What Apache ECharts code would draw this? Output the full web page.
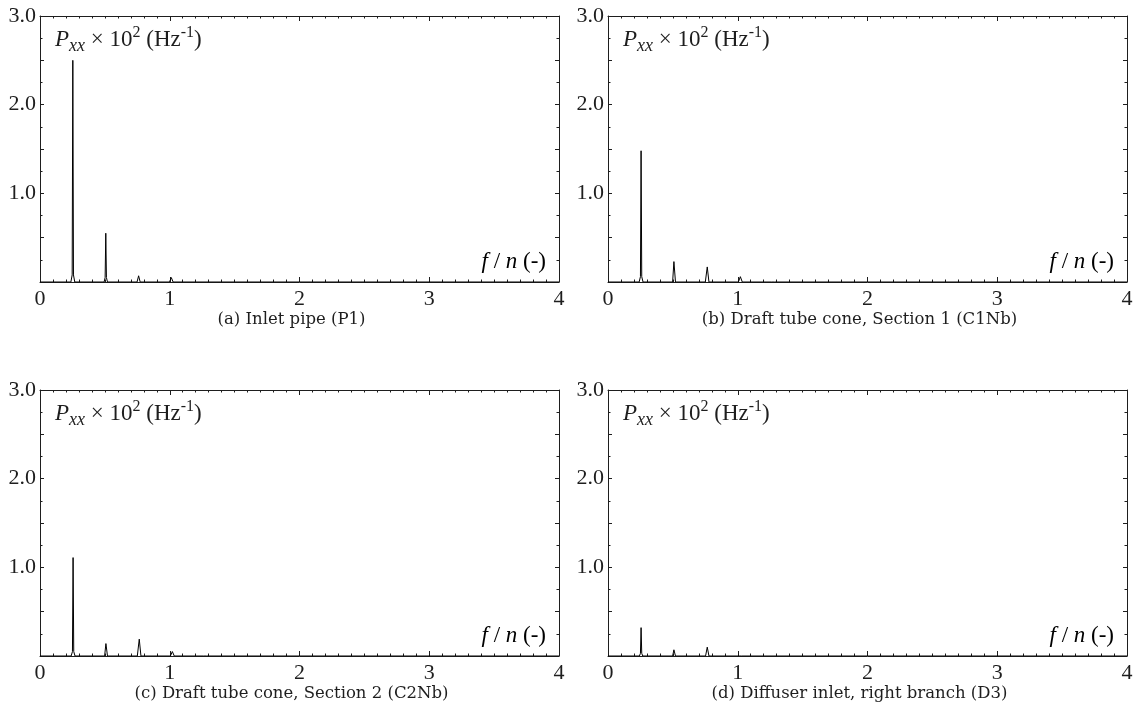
<!DOCTYPE html>
<html>
<head>
<meta charset="utf-8">
<script src="https://cdn.jsdelivr.net/npm/echarts@6/dist/echarts.min.js"></script>
<style>
  html, body { margin: 0; padding: 0; background: #fff; }
  #chart { width: 1138px; height: 722px; }
</style>
</head>
<body>
<div id="chart"></div>
<script>
// Normalised frequency f/n and power spectral density Pxx x 10^2 (Hz^-1) per probe
const freqP1   = [0, 0.238, 0.248, 0.253, 0.258, 0.268, 0.494, 0.502, 0.507, 0.512, 0.520, 0.748, 0.760, 0.772, 0.998, 1.012, 1.026, 4];
const psdP1    = [0, 0,     0.08,  2.50,  0.08,  0,     0,     0.05,  0.55,  0.05,  0,     0,     0.07,  0,     0,     0.05,  0,     0];

const freqC1Nb = [0, 0.240, 0.250, 0.255, 0.260, 0.270, 0.498, 0.508, 0.520, 0.750, 0.765, 0.778, 1.005, 1.020, 1.035, 1.262, 1.272, 1.282, 4];
const psdC1Nb  = [0, 0,     0.06,  1.48,  0.06,  0,     0,     0.23,  0,     0,     0.17,  0,     0,     0.06,  0,     0,     0.02,  0,     0];

const freqC2Nb = [0, 0.240, 0.250, 0.255, 0.260, 0.270, 0.498, 0.508, 0.520, 0.750, 0.765, 0.778, 1.005, 1.020, 1.035, 1.262, 1.272, 1.282, 4];
const psdC2Nb  = [0, 0,     0.05,  1.11,  0.05,  0,     0,     0.14,  0,     0,     0.19,  0,     0,     0.05,  0,     0,     0.01,  0,     0];

const freqD3   = [0, 0.242, 0.250, 0.255, 0.260, 0.268, 0.498, 0.508, 0.520, 0.752, 0.765, 0.778, 1.005, 1.018, 1.030, 4];
const psdD3    = [0, 0,     0.03,  0.32,  0.03,  0,     0,     0.07,  0,     0,     0.10,  0,     0,     0.02,  0,     0];

const panelCaptions = [
  '(a) Inlet pipe (P1)',
  '(b) Draft tube cone, Section 1 (C1Nb)',
  '(c) Draft tube cone, Section 2 (C2Nb)',
  '(d) Diffuser inlet, right branch (D3)'
];
const xTickValues = [0, 1, 2, 3, 4];
const yTickLabels = ['1.0', '2.0', '3.0'];

const spectra = [
  { f: freqP1, p: psdP1 },
  { f: freqC1Nb, p: psdC1Nb },
  { f: freqC2Nb, p: psdC2Nb },
  { f: freqD3, p: psdD3 }
];

// panel frames in pixels
const frames = [
  { left: 40,  top: 16,  width: 519, height: 266 },
  { left: 608, top: 16,  width: 519, height: 266 },
  { left: 40,  top: 390, width: 519, height: 266 },
  { left: 608, top: 390, width: 519, height: 266 }
];

const INK = '#1e1e1e';
const SERIF = 'Liberation Serif';
const CAPTION_FONT = 'DejaVu Serif';

const grid = [], xAxis = [], yAxis = [], series = [], graphic = [];

frames.forEach((fr, i) => {
  grid.push({ left: fr.left, top: fr.top, width: fr.width, height: fr.height, containLabel: false });

  const xCommon = {
    type: 'value', gridIndex: i, min: 0, max: 4, interval: 1,
    axisLine: { show: true, onZero: false, lineStyle: { color: INK, width: 1 } },
    axisTick: { show: true, inside: true, length: 5, lineStyle: { color: INK } },
    minorTick: { show: true, splitNumber: 10, length: 2.5, lineStyle: { color: INK } },
    splitLine: { show: false }
  };
  xAxis.push(Object.assign({}, xCommon, {
    position: 'bottom',
    axisLabel: {
      show: true, margin: 6, color: INK, fontFamily: SERIF, fontSize: 22,
      formatter: v => (xTickValues.indexOf(v) >= 0 ? String(v) : '')
    }
  }));
  xAxis.push(Object.assign({}, xCommon, {
    position: 'top',
    axisLabel: { show: false }
  }));

  const yCommon = {
    type: 'value', gridIndex: i, min: 0, max: 3, interval: 0.5,
    axisLine: { show: true, onZero: false, lineStyle: { color: INK, width: 1 } },
    axisTick: { show: true, inside: true, length: 4, lineStyle: { color: INK } },
    minorTick: { show: true, splitNumber: 2, length: 2.5, lineStyle: { color: INK } },
    splitLine: { show: false }
  };
  yAxis.push(Object.assign({}, yCommon, {
    position: 'left',
    axisLabel: {
      show: true, margin: 4, color: INK, fontFamily: SERIF, fontSize: 22,
      formatter: v => {
        const s = v.toFixed(1);
        return yTickLabels.indexOf(s) >= 0 ? s : '';
      }
    }
  }));
  yAxis.push(Object.assign({}, yCommon, {
    position: 'right',
    axisLabel: { show: false }
  }));

  const sp = spectra[i];
  series.push({
    type: 'line',
    xAxisIndex: 2 * i,
    yAxisIndex: 2 * i,
    data: sp.f.map((f, k) => [f, sp.p[k]]),
    showSymbol: false,
    symbol: 'none',
    silent: true,
    animation: false,
    lineStyle: { color: '#000', width: 1 }
  });

  // quantity label in the upper-left corner
  graphic.push({
    type: 'text',
    x: fr.left + 15,
    y: fr.top + 8,
    silent: true,
    style: {
      text: '{i|P}{sub|xx}{n| × 10}{sup|2}{n| (Hz}{sup|-1}{n|)}',
      fill: INK,
      rich: {
        i:   { fontFamily: SERIF, fontStyle: 'italic', fontSize: 23, color: INK, lineHeight: 32 },
        n:   { fontFamily: SERIF, fontSize: 23, color: INK, lineHeight: 32 },
        sub: { fontFamily: SERIF, fontStyle: 'italic', fontSize: 18, color: INK, padding: [12, 0, 0, 0] },
        sup: { fontFamily: SERIF, fontSize: 16, color: INK, padding: [0, 0, 15, 0] }
      }
    }
  });

  // frequency label in the lower-right corner
  graphic.push({
    type: 'text',
    x: fr.left + fr.width - 13,
    y: fr.top + fr.height - 9,
    silent: true,
    style: {
      text: '{i|f}{n| / }{i|n}{n| (-)}',
      align: 'right',
      verticalAlign: 'bottom',
      rich: {
        i: { fontFamily: SERIF, fontStyle: 'italic', fontSize: 23, color: INK },
        n: { fontFamily: SERIF, fontSize: 23, color: INK }
      }
    }
  });

  // panel caption
  graphic.push({
    type: 'text',
    x: fr.left + fr.width / 2 - 8,
    y: fr.top + fr.height + 38,
    silent: true,
    style: {
      text: panelCaptions[i],
      font: '16.5px ' + CAPTION_FONT,
      fill: INK,
      align: 'center',
      verticalAlign: 'middle'
    }
  });
});

const chart = echarts.init(document.getElementById('chart'), null, { renderer: 'canvas' });
chart.setOption({
  animation: false,
  backgroundColor: '#ffffff',
  grid, xAxis, yAxis, series, graphic
});
</script>
</body>
</html>
